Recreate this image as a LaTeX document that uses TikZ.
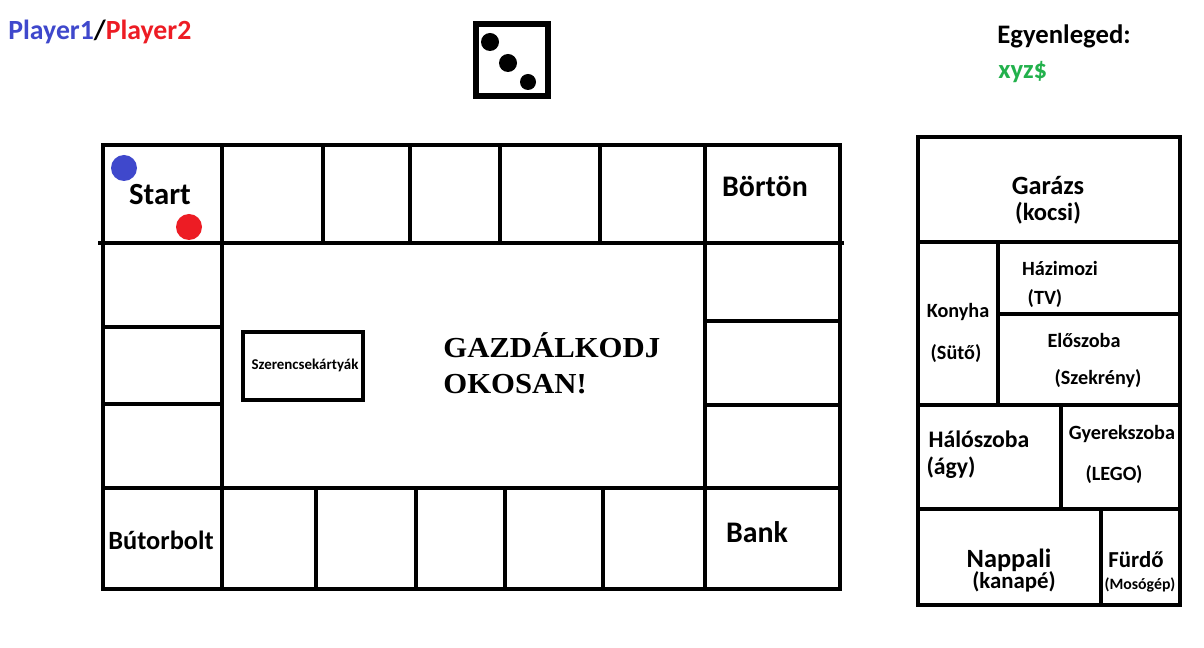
\documentclass[tikz,border=0pt]{standalone}
\usepackage{fontspec}
\usepackage{graphicx}
\setmainfont{Carlito}
\newfontfamily\titlefont{Liberation Serif}
\usepackage{tikz}
\definecolor{pone}{HTML}{3F48CC}
\definecolor{ptwo}{HTML}{ED1C24}
\definecolor{cash}{HTML}{22B14C}
\definecolor{ink}{HTML}{000000}
\newcommand\fsz[1]{\fontsize{#1}{#1}\selectfont}

\begin{document}
\begin{tikzpicture}[x=0.02cm,y=-0.02cm,
    wall/.style={ink,line width=2.8pt,line cap=rect},
    lbl/.style={inner sep=0pt,anchor=base,font=\bfseries}]
  \useasboundingbox[fill=white] (0,0) rectangle (1204,648);
  % header: players, dice, balance
  \node[lbl,anchor=base west,font=\bfseries\fsz{15.8pt}] (players) at (8,40)
    {\textcolor{pone}{Player1}/\textcolor{ptwo}{Player2}};
  \draw[wall,line width=3pt] (476,24) rectangle (548,96);
  \foreach \x/\y/\r in {490/42/9,508/63/9,528/82/8} {\fill[ink] (\x,\y) circle[radius=\r];}
  \node[lbl,anchor=base west,font=\bfseries\fsz{15.2pt}] (balance) at (997,44) {Egyenleged:};
  \node[lbl,anchor=base west,font=\bfseries\fsz{15.2pt},text=cash] (money) at (998,79) {xyz\$};
  % board: outer frame and the two ring lines
  \draw[wall] (103,145) rectangle (840,589);
  \draw[wall] (100,243) -- (842,243);
  \draw[wall] (103,488) -- (840,488);
  \draw[wall] (222,145) -- (222,589);
  \draw[wall] (705,145) -- (705,589);
  % cell dividers
  \foreach \x in {323,410,500,600} {\draw[wall] (\x,145) -- (\x,243);}
  \foreach \x in {316,416,505,603} {\draw[wall] (\x,488) -- (\x,589);}
  \foreach \y in {327,404} {\draw[wall] (103,\y) -- (222,\y);}
  \foreach \y in {321,405} {\draw[wall] (705,\y) -- (840,\y);}
  % corner cells
  \fill[pone] (124,168) circle[radius=13];
  \fill[ptwo] (189,227) circle[radius=13];
  \node[lbl,font=\bfseries\fsz{17.5pt}] (start) at (160,205) {Start};
  \node[lbl,font=\bfseries\fsz{17pt}] (borton) at (765,197) {Börtön};
  \node[lbl,font=\bfseries\fsz{17pt}] (bank) at (757,542) {Bank};
  \node[lbl,font=\bfseries\fsz{15pt}] (butor) at (161,549) {Bútorbolt};
  % middle
  \draw[wall] (243,332) rectangle (363,400);
  \node[lbl,font=\bfseries\fsz{8.5pt}] (cards) at (305,370) {Szerencsekártyák};
  \node[lbl,anchor=base west,font=\titlefont\bfseries\fsz{16.5pt}] (title1) at (443,358)
    {\scalebox{1.06}[1]{GAZDÁLKODJ}};
  \node[lbl,anchor=base west,font=\titlefont\bfseries\fsz{16.5pt}] (title2) at (443,394)
    {\scalebox{1.06}[1]{OKOSAN!}};
  % house plan
  \draw[wall] (918,137) rectangle (1180,605);
  \draw[wall] (918,242) -- (1180,242);
  \draw[wall] (998,242) -- (998,404);
  \draw[wall] (998,314) -- (1180,314);
  \draw[wall] (918,405) -- (1180,405);
  \draw[wall] (1061,405) -- (1061,509);
  \draw[wall] (918,509) -- (1180,509);
  \draw[wall] (1101,509) -- (1101,605);
  \node[lbl,font=\bfseries\fsz{15pt}] (garazs) at (1048,195) {Garázs};
  \node[lbl,font=\bfseries\fsz{14pt}] (kocsi) at (1048,221) {(kocsi)};
  \node[lbl,font=\bfseries\fsz{11.5pt}] (mozi) at (1060,276) {Házimozi};
  \node[lbl,font=\bfseries\fsz{11.5pt}] (tv) at (1045,305) {(TV)};
  \node[lbl,font=\bfseries\fsz{11.5pt}] (konyha) at (958,318) {Konyha};
  \node[lbl,font=\bfseries\fsz{11.5pt}] (suto) at (956,360) {(Sütő)};
  \node[lbl,font=\bfseries\fsz{11.5pt}] (eloszoba) at (1084,348) {Előszoba};
  \node[lbl,font=\bfseries\fsz{11.5pt}] (szekreny) at (1098,385) {(Szekrény)};
  \node[lbl,font=\bfseries\fsz{13.5pt}] (haloszoba) at (979,448) {Hálószoba};
  \node[lbl,font=\bfseries\fsz{13.5pt}] (agy) at (951,475) {(ágy)};
  \node[lbl,font=\bfseries\fsz{11.5pt}] (gyerek) at (1122,440) {Gyerekszoba};
  \node[lbl,font=\bfseries\fsz{11.5pt}] (lego) at (1114,480) {(LEGO)};
  \node[lbl,font=\bfseries\fsz{15pt}] (nappali) at (1009,567) {Nappali};
  \node[lbl,font=\bfseries\fsz{13pt}] (kanape) at (1014,588) {(kanapé)};
  \node[lbl,font=\bfseries\fsz{13pt}] (furdo) at (1136,567) {Fürdő};
  \node[lbl,font=\bfseries\fsz{9pt}] (mosogep) at (1140,589) {(Mosógép)};
\end{tikzpicture}
\end{document}
